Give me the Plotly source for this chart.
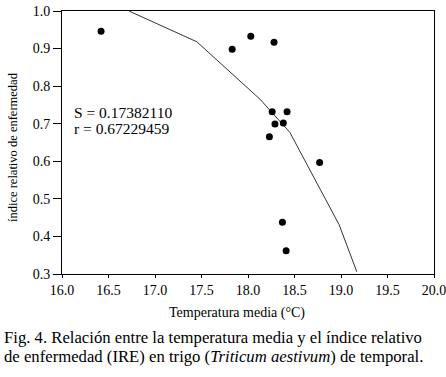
import plotly.graph_objects as go

# Observed points
temp_obs = [16.42, 17.83, 18.03, 18.28, 18.26, 18.42, 18.29, 18.38, 18.23, 18.77, 18.37, 18.41]
ire_obs = [0.946, 0.898, 0.933, 0.917, 0.732, 0.732, 0.699, 0.702, 0.665, 0.597, 0.438, 0.362]

# Fitted curve
temp_fit = [16.72, 17.45, 18.13, 18.45, 18.98, 19.17]
ire_fit = [1.0, 0.918, 0.765, 0.677, 0.431, 0.306]

x_ticks = [16.0, 16.5, 17.0, 17.5, 18.0, 18.5, 19.0, 19.5, 20.0]
y_ticks = [0.3, 0.4, 0.5, 0.6, 0.7, 0.8, 0.9, 1.0]

FONT = "Liberation Serif"

fig = go.Figure()
fig.add_trace(go.Scatter(x=temp_fit, y=ire_fit, mode="lines",
                         line=dict(color="#333333", width=1), hoverinfo="skip"))
fig.add_trace(go.Scatter(x=temp_obs, y=ire_obs, mode="markers",
                         marker=dict(color="black", size=7)))

fig.update_layout(
    width=446, height=377,
    margin=dict(l=62, r=12, t=11, b=103),
    paper_bgcolor="white", plot_bgcolor="white",
    showlegend=False,
    font=dict(family=FONT, size=14, color="black"),
    xaxis=dict(range=[16, 20], tickvals=x_ticks, tickformat=".1f",
               showline=True, linecolor="black", linewidth=1, mirror=True,
               ticks="outside", ticklen=3, tickcolor="black",
               showgrid=False, zeroline=False, automargin=False,
               ticklabeloverflow="allow", tickfont=dict(size=14)),
    yaxis=dict(range=[0.3, 1.0], tickvals=y_ticks, tickformat=".1f",
               showline=True, linecolor="black", linewidth=1, mirror=True,
               ticks="outside", ticklen=8, tickcolor="black",
               showgrid=False, zeroline=False, automargin=False,
               ticklabeloverflow="allow", tickfont=dict(size=14)),
)

# Axis titles as annotations for precise placement
fig.add_annotation(x=(237 - 62) / 372, y=(274 - 313) / 263, xref="paper", yref="paper",
                   text="Temperatura media (°C)", showarrow=False,
                   xanchor="center", yanchor="middle", font=dict(size=14))
fig.add_annotation(x=(13 - 62) / 372, y=(274 - 147) / 263, xref="paper", yref="paper",
                   text="índice relativo de enfermedad", showarrow=False, textangle=-90,
                   xanchor="center", yanchor="middle", font=dict(size=12.5))

fig.add_annotation(x=16.11, y=0.731, xref="x", yref="y", text="S = 0.17382110",
                   showarrow=False, xanchor="left", font=dict(size=15.5))
fig.add_annotation(x=16.11, y=0.686, xref="x", yref="y", text="r = 0.67229459",
                   showarrow=False, xanchor="left", font=dict(size=15.5))

fig.add_annotation(x=(2 - 62) / 372, y=(274 - 337) / 263, xref="paper", yref="paper",
                   text="Fig. 4. Relación entre la temperatura media y el índice relativo",
                   showarrow=False, xanchor="left", yanchor="middle", font=dict(size=16.7))
fig.add_annotation(x=(2 - 62) / 372, y=(274 - 356) / 263, xref="paper", yref="paper",
                   text="de enfermedad (IRE) en trigo (<i>Triticum aestivum</i>) de temporal.",
                   showarrow=False, xanchor="left", yanchor="middle", font=dict(size=16.7))

fig.write_html("out.html", config={"displayModeBar": False},
               post_script="document.body.style.margin='0';")
